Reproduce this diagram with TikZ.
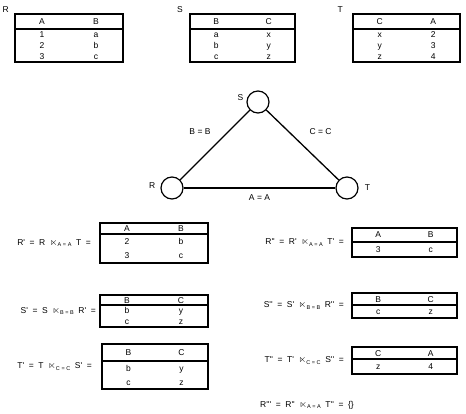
\documentclass[tikz,border=0pt]{standalone}
\usepackage{fontspec}
\setmainfont{Liberation Sans}[Ligatures=TeXOff]
\usepackage{amssymb}
\usetikzlibrary{
  matrix,
  positioning
}
\newcommand{\relfont}{\fontsize{8.5}{10}\selectfont}
\newcommand{\eqfont}{\relfont\spaceskip=4.6pt plus 1pt minus 1pt\relax}
\newcommand{\sjoin}[1]{{\fontsize{10}{12}\selectfont$\ltimes$}\mbox{\fontsize{5.5}{6}\selectfont\spaceskip=1.6pt\relax\raisebox{-1.5pt}{#1}}}
\tikzset{
  reltab/.style={
    matrix of nodes, draw, line width=1.5pt, inner sep=0pt, outer sep=0pt,
    anchor=north west, row sep=0pt, column sep=0pt,
    nodes={minimum width=54pt, minimum height=11pt, inner sep=0pt,
      text height=6pt, text depth=0pt, font=\relfont},
    row 1/.style={nodes={minimum height=15pt}}
  },
  hdrline/.style={line width=1.3pt},
  vertex/.style={draw, circle, line width=1.2pt, minimum size=22pt, inner sep=0pt},
  edge/.style={line width=1.3pt},
  edgelabel/.style={font=\relfont, inner sep=1pt},
  rellabel/.style={font=\relfont, inner sep=0pt},
  eqlabel/.style={font=\eqfont, inner sep=0pt}
}
\begin{document}
\begin{tikzpicture}[x=1pt, y=-1pt]
  \useasboundingbox (0,0) rectangle (466,414);
  % base relations
  \matrix[reltab] (R) at (15,14) {A & B\\ 1 & a\\ 2 & b\\ 3 & c\\};
  \matrix[reltab, nodes={minimum width=52.5pt}] (S) at (190,14) {B & C\\ a & x\\ b & y\\ c & z\\};
  \matrix[reltab, nodes={minimum width=53.5pt}] (T) at (353,14) {C & A\\ x & 2\\ y & 3\\ z & 4\\};
  \node[rellabel, above left=1pt and 6pt of R.north west] (lR) {R};
  \node[rellabel, above left=1pt and 7pt of S.north west] (lS) {S};
  \node[rellabel, above left=1pt and 10pt of T.north west] (lT) {T};

  % join graph
  \node[vertex] (vS) at (258,102) {};
  \node[vertex] (vR) at (172,188) {};
  \node[vertex] (vT) at (347,188) {};
  \node[rellabel, left=3pt of vS, yshift=4pt] (nS) {S};
  \node[rellabel, left=5pt of vR, yshift=2pt] (nR) {R};
  \node[rellabel, right=6pt of vT] (nT) {T};
  \draw[edge] (vR) -- (vS) node[edgelabel, midway, xshift=-15pt, yshift=13pt] (eBB) {B = B};
  \draw[edge] (vS) -- (vT) node[edgelabel, midway, xshift=18pt, yshift=13pt] (eCC) {C = C};
  \draw[edge] (vR) -- (vT) node[edgelabel, midway, yshift=-10pt] (eAA) {A = A};

  % first pass
  \matrix[reltab, row 1/.style={nodes={minimum height=11pt}}, nodes={minimum height=14.5pt}] (Rp) at (100,223) {A & B\\ 2 & b\\ 3 & c\\};
  \matrix[reltab, row 1/.style={nodes={minimum height=10pt}}] (Sp) at (100,295) {B & C\\ b & y\\ c & z\\};
  \matrix[reltab, row 1/.style={nodes={minimum height=17pt}}, nodes={minimum width=53pt, minimum height=14pt}] (Tp) at (102,344) {B & C\\ b & y\\ c & z\\};
  \node[eqlabel, left=9pt of Rp] (qRp) {R' = R \sjoin{A = A} T =};
  \node[eqlabel, left=4pt of Sp] (qSp) {S' = S \sjoin{B = B} R' =};
  \node[eqlabel, left=10pt of Tp] (qTp) {T' = T \sjoin{C = C} S' =};

  % second pass
  \matrix[reltab, row 1/.style={nodes={minimum height=14pt}}, nodes={minimum width=52.5pt, minimum height=15pt}] (Rpp) at (352,228) {A & B\\ 3 & c\\};
  \matrix[reltab, row 1/.style={nodes={minimum height=12pt}}, nodes={minimum width=52.5pt, minimum height=13pt}] (Spp) at (352,293) {B & C\\ c & z\\};
  \matrix[reltab, row 1/.style={nodes={minimum height=12pt}}, nodes={minimum width=52.5pt, minimum height=15pt}] (Tpp) at (352,347) {C & A\\ z & 4\\};
  \node[eqlabel, left=8pt of Rpp] (qRpp) {R'' = R' \sjoin{A = A} T' =};
  \node[eqlabel, left=8pt of Spp] (qSpp) {S'' = S' \sjoin{B = B} R'' =};
  \node[eqlabel, left=8pt of Tpp] (qTpp) {T'' = T' \sjoin{C = C} S'' =};
  \node[eqlabel, anchor=west] (qRppp) at (260,405) {R''' = R'' \sjoin{A = A} T'' = \{\}};

  \foreach \t in {R,S,T,Rp,Sp,Tp,Rpp,Spp,Tpp}
    \draw[hdrline] (\t.west |- \t-1-1.south) -- (\t.east |- \t-1-1.south);
\end{tikzpicture}
\end{document}
